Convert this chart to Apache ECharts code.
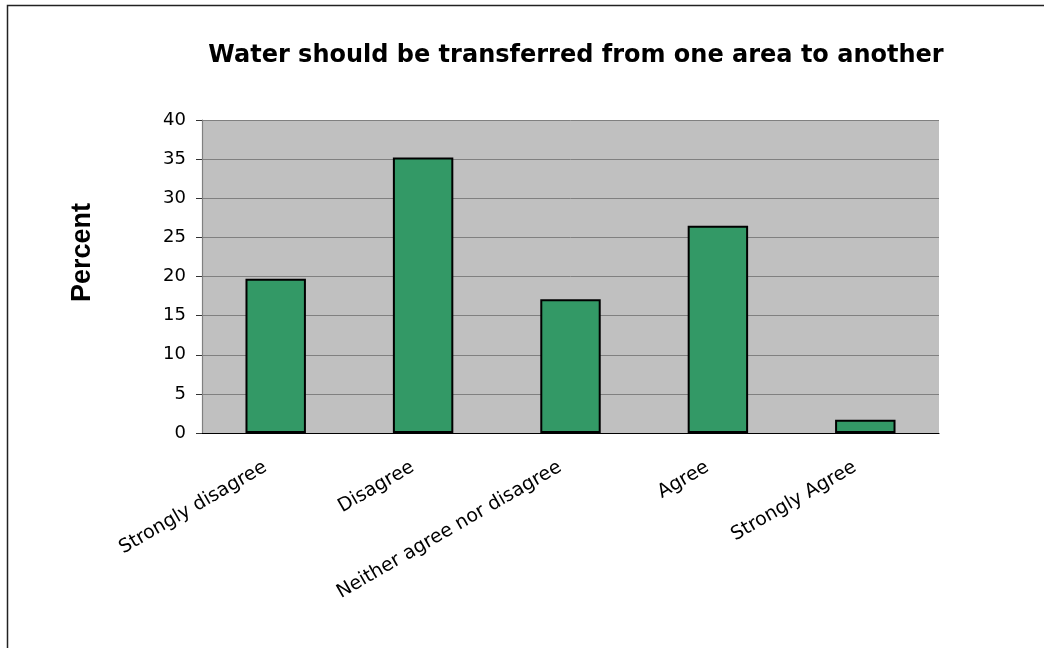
<!DOCTYPE html>
<html>
<head>
<meta charset="utf-8">
<script src="https://cdn.jsdelivr.net/npm/echarts@6/dist/echarts.min.js"></script>
<style>
html,body{margin:0;padding:0;background:#fff;}
#c{width:1044px;height:648px;}
</style>
</head>
<body>
<div id="c"></div>
<script>
const categories = ['Strongly disagree', 'Disagree', 'Neither agree nor disagree', 'Agree', 'Strongly Agree'];
const percentValues = [19.7, 35.2, 17.1, 26.5, 1.7];
const chartTitle = 'Water should be transferred from one area to another';
const yAxisName = 'Percent';

const chart = echarts.init(document.getElementById('c'), null, {renderer: 'canvas'});
const FONT = '"DejaVu Sans", "Liberation Sans", Arial, sans-serif';
const FONT_ARIAL = '"Liberation Sans", Arial, sans-serif';
chart.setOption({
  animation: false,
  backgroundColor: '#ffffff',
  title: {
    text: chartTitle,
    left: 571, top: 39, textAlign: 'center',
    textStyle: {fontFamily: FONT, fontWeight: 'bold', fontSize: 24, color: '#000'}
  },
  graphic: [{
    type: 'rect', silent: true,
    shape: {x: 7.5, y: 5.5, width: 1200, height: 1000},
    style: {fill: 'none', stroke: '#222', lineWidth: 1.5}
  }],
  grid: {left: 202, top: 120, right: 105, bottom: 215, show: true, backgroundColor: '#c0c0c0', borderWidth: 0},
  xAxis: {
    type: 'category',
    data: categories,
    axisLine: {lineStyle: {color: '#000', width: 1.2}},
    axisTick: {length: 6, lineStyle: {color: '#000'}},
    axisLabel: {rotate: 30, margin: 27, padding: [0, 12, 0, 0], fontFamily: FONT, fontSize: 19, color: '#000', interval: 0}
  },
  yAxis: {
    type: 'value', min: 0, max: 40, interval: 5,
    name: yAxisName, nameLocation: 'middle', nameGap: 106, nameRotate: 90,
    nameTextStyle: {fontFamily: FONT_ARIAL, fontWeight: 'bold', fontSize: 27, color: '#000', padding: [0, 0, 0, 48]},
    axisLine: {show: true, lineStyle: {color: '#808080', width: 1.2}},
    axisTick: {show: true, length: 6, lineStyle: {color: '#333'}},
    axisLabel: {margin: 16, fontFamily: FONT, fontSize: 18, color: '#000'},
    splitLine: {lineStyle: {color: '#808080', width: 1}}
  },
  series: [{
    type: 'bar',
    data: percentValues,
    barWidth: '41%',
    itemStyle: {color: '#339966', borderColor: '#000', borderWidth: 2}
  }]
});
</script>
</body>
</html>
